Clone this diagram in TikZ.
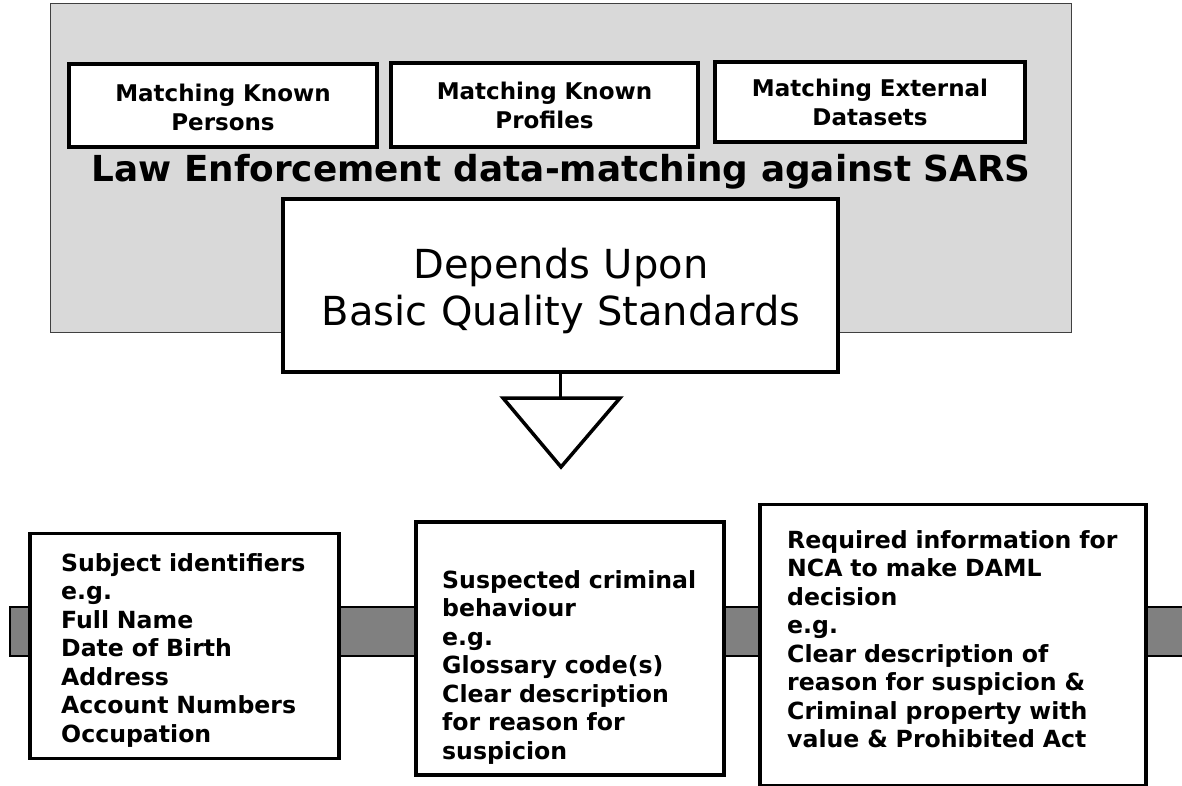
\documentclass[tikz,border=0pt]{standalone}
\usepackage{fontspec}
\setmainfont{DejaVu Sans}
\begin{document}
\begin{tikzpicture}[x=1pt,y=-1pt,
  panel/.style={draw=black!75, line width=1pt, fill=black!15, inner sep=0pt},
  topbox/.style={draw=black, line width=3.2pt, fill=white, inner sep=0pt},
  infobox/.style={draw=black, line width=3.5pt, fill=white, inner sep=0pt},
  toptxt/.style={inner sep=0pt, anchor=base, align=center, text width=300pt, font=\fontsize{23}{29}\selectfont\bfseries},
  smalltxt/.style={inner sep=0pt, anchor=base west, align=left, font=\fontsize{23.6}{28.5}\selectfont\bfseries},
  band/.style={draw=black, line width=1.5pt, fill=black!50},
  link/.style={draw=black, line width=3.5pt},
  tri/.style={draw=black, line width=3.5pt, line join=miter, fill=white}
]
\useasboundingbox (0,0) rectangle (1182,786);

% grey panel
\node[panel, minimum width=1021pt, minimum height=328pt] (panel) at (560.5,168) {};

% top boxes
\node[topbox, minimum width=308pt, minimum height=83pt] (b1) at (223,105.5) {};
\node[topbox, minimum width=307pt, minimum height=84pt] (b2) at (544.5,105) {};
\node[topbox, minimum width=310pt, minimum height=80pt] (b3) at (870,102) {};
\node[toptxt] (t1) at (223,102) {Matching Known\\Persons};
\node[toptxt] (t2) at (544.5,100) {Matching Known\\Profiles};
\node[toptxt] (t3) at (870,97) {Matching External\\Datasets};

% title
\node[inner sep=0pt, anchor=base, font=\fontsize{35.8}{40}\selectfont\bfseries] (title) at (561,182) {Law Enforcement data-matching against SARS};

% central box
\node[infobox, minimum width=555pt, minimum height=173pt] (dep) at (560.5,285.5) {};
\node[inner sep=0pt, anchor=base, align=center, text width=540pt, font=\fontsize{40}{47}\selectfont] (deptext) at (561,278) {Depends Upon\\Basic Quality Standards};

% connector and triangle
\coordinate (tritop) at (560.5,398);
\coordinate (triL) at (503,398);
\coordinate (triR) at (620,398);
\coordinate (triB) at (561,467);
\draw[link] (dep.south) -- (tritop);
\draw[tri] (triL) -- (triR) -- (triB) -- cycle;

% band
\coordinate (bandA) at (10,607);
\coordinate (bandB) at (1186,656);
\draw[band] (bandA) rectangle (bandB);

% bottom boxes
\node[infobox, minimum width=309pt, minimum height=225pt] (bA) at (184.5,646) {};
\node[infobox, minimum width=308pt, minimum height=253pt] (bB) at (570,648.5) {};
\node[infobox, minimum width=386pt, minimum height=281pt] (bC) at (953,645) {};

\node[smalltxt, text width=275pt] (tA) at (61,571) {Subject identifiers\\e.g.\\Full Name\\Date of Birth\\Address\\Account Numbers\\Occupation};
\node[smalltxt, text width=275pt] (tB) at (442,588) {Suspected criminal\\behaviour\\e.g.\\Glossary code(s)\\Clear description\\for reason for\\suspicion};
\node[smalltxt, text width=350pt] (tC) at (787,548) {Required information for\\NCA to make DAML\\decision\\e.g.\\Clear description of\\reason for suspicion \&\\Criminal property with\\value \& Prohibited Act};
\end{tikzpicture}
\end{document}
